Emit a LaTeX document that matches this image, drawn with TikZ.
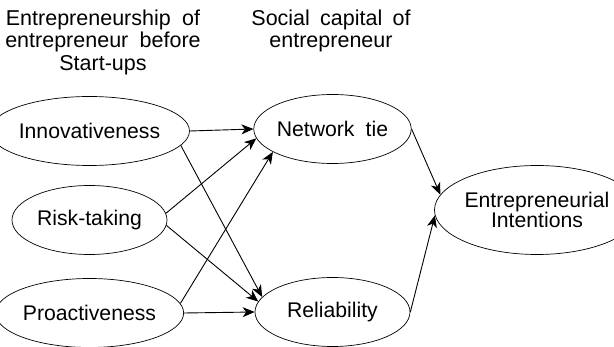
\documentclass[tikz,border=0pt]{standalone}
\usepackage{fontspec}
\setmainfont{Liberation Sans}
\usetikzlibrary{shapes.geometric,arrows.meta}
\begin{document}
\begin{tikzpicture}[x=1pt,y=-1pt,
  oval/.style={draw,ellipse,line width=0.7pt,inner sep=0pt,minimum width=155pt,minimum height=69pt,font=\fontsize{21.2}{22}\selectfont},
  head/.style={align=center,font=\fontsize{21.5}{22.5}\selectfont},
  conn/.style={line width=0.9pt,-{Stealth[length=12pt,width=10pt,inset=3.5pt]}}]
\useasboundingbox (0,0) rectangle (614,347);
\node[head] (h1) at (103,42) {Entrepreneurship\hspace{0.25em} of\\entrepreneur\hspace{0.25em} before\\Start-ups};
\node[head] (h2) at (331,31) {Social\hspace{0.2em} capital\hspace{0.2em} of\\entrepreneur};
\node[oval] (inn) at (89.5,131) {Innovativeness};
\node[oval] (risk) at (89.5,220) {Risk-taking};
\node[oval] (pro) at (89.5,313) {Proactiveness};
\node[oval] (net) at (332.5,129) {Network\hspace{0.25em} tie};
\node[oval] (rel) at (332.5,312) {Reliability};
\node[oval,minimum width=154pt,minimum height=89pt,align=center,font=\fontsize{21.2}{20.5}\selectfont] (ei) at (537,210) {Entrepreneurial\\Intentions};
\draw[conn] (inn.east) -- (net.west);
\draw[conn] (inn.-9) -- (rel.168);
\draw[conn] (risk.5) -- (net.-173);
\draw[conn] (risk.-4) -- (rel.172);
\draw[conn] (pro.6) -- (net.-159);
\draw[conn] (pro.east) -- (rel.west);
\draw[conn] (net.east) -- (ei.171);
\draw[conn] (rel.east) -- (ei.183);
\end{tikzpicture}
\end{document}
